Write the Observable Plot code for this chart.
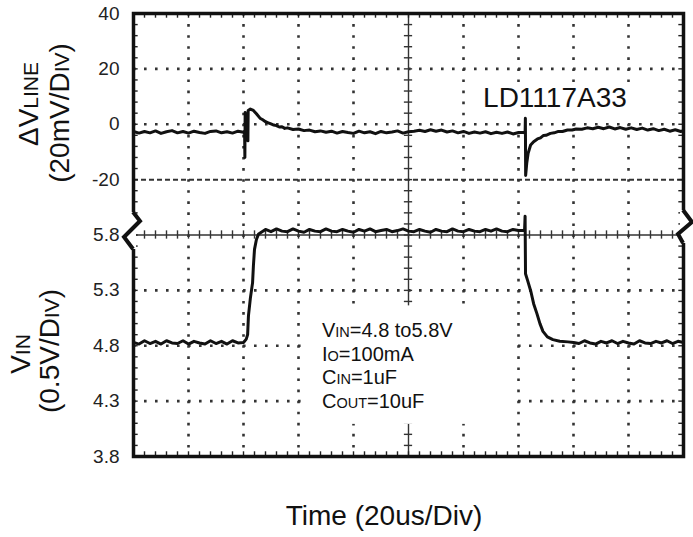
<!DOCTYPE html>
<html><head><meta charset="utf-8">
<script src="https://cdn.jsdelivr.net/npm/d3@7"></script>
<script src="https://cdn.jsdelivr.net/npm/@observablehq/plot@0.6"></script>
<style>
html,body{margin:0;padding:0;background:#fff;}
#chart svg{display:block;}
</style></head>
<body><div id="chart"></div>
<script>
// ---- data (time in µs, 20 µs/div) ----
const lineTime = [0,2,4,6,8,10,12,14,16,18,20,22,24,26,28,30,32,34,36,38,40,40.4,40.5,40.6,40.8,41.5,41.6,41.7,42.5,43.6,44.7,46,47,48,49,50,51,52,53,54,55,56,58,60,62,64,66,68,70,72,74,76,78,80,82,84,86,88,90,92,94,96,98,100,102,104,106,108,110,112,114,116,118,120,122,124,126,128,130,132,134,136,138,140,142,142.4,142.5,142.6,143,143.5,144.4,145.5,146.9,148,149,150,151.6,153,154.5,156,157.8,159.5,161,163,165,167,169,171,173,175,177,179,181,183,185,187,189,191,193,195,197,199,200];
const lineMv = [-2.6,-3.2,-2.6,-3.1,-2.4,-3.3,-2.7,-2.3,-3.1,-2.6,-3.2,-2.5,-3.0,-3.3,-2.6,-2.4,-3.1,-2.7,-3.2,-2.5,-2.9,-2.5,-12.0,4.2,-1.5,-3.0,-6.0,5.0,5.5,5.0,3.8,2.2,1.6,0.9,0.5,0.1,-0.3,-0.5,-1.0,-0.9,-1.5,-1.3,-1.9,-1.7,-2.3,-2.1,-2.7,-2.4,-2.9,-2.5,-3.2,-2.6,-3.0,-3.3,-2.5,-3.1,-2.7,-3.4,-2.6,-3.1,-2.8,-2.4,-3.2,-2.7,-2.5,-2.2,-2.6,-2.0,-2.5,-2.1,-2.8,-2.4,-3.1,-2.6,-3.3,-2.8,-3.2,-2.7,-3.4,-2.9,-3.3,-2.8,-3.5,-3.0,-3.0,-3.2,2.2,-18.5,-14.0,-10.5,-7.5,-6.3,-5.3,-4.9,-4.1,-4.0,-3.3,-3.1,-2.6,-2.6,-2.1,-2.1,-1.7,-1.8,-1.3,-1.6,-1.1,-1.6,-1.0,-1.7,-1.2,-1.8,-1.3,-1.9,-1.4,-2.1,-1.6,-2.3,-1.8,-2.5,-2.0,-2.6,-2.3];
const vinTime = [0,2,4,6,8,10,12,14,16,18,20,22,24,26,28,30,32,34,36,38,40,41,41.5,41.8,42.5,43.3,43.6,44,44.7,45.5,48,50,52,54,56,58,60,62,64,66,68,70,72,74,76,78,80,82,84,86,88,90,92,94,96,98,100,102,104,106,108,110,112,114,116,118,120,122,124,126,128,130,132,134,136,138,140,142.2,142.4,142.55,143.3,144.5,145.5,146.7,147.8,148.9,150.5,152.5,155,158,160,162,164,166,168,170,172,174,176,178,180,182,184,186,188,190,192,194,196,198,200];
const vinVolt = [4.83,4.815,4.845,4.82,4.84,4.815,4.845,4.825,4.82,4.845,4.815,4.84,4.825,4.815,4.845,4.82,4.84,4.815,4.845,4.825,4.83,4.86,4.90,5.07,5.23,5.37,5.52,5.67,5.76,5.81,5.85,5.83,5.855,5.835,5.83,5.855,5.835,5.825,5.85,5.835,5.83,5.855,5.835,5.83,5.85,5.835,5.825,5.85,5.835,5.855,5.83,5.84,5.85,5.83,5.84,5.855,5.835,5.83,5.85,5.835,5.825,5.85,5.835,5.83,5.855,5.835,5.83,5.85,5.835,5.83,5.85,5.835,5.855,5.835,5.83,5.85,5.84,5.84,5.97,5.45,5.39,5.29,5.18,5.09,5.00,4.93,4.88,4.855,4.84,4.835,4.83,4.82,4.845,4.825,4.815,4.84,4.825,4.845,4.82,4.84,4.825,4.815,4.845,4.825,4.82,4.84,4.825,4.845,4.82,4.84,4.83];

// y axis: 8 divisions, labels per division line (bottom to top)
const yTickLabels = ["3.8","4.3","4.8","5.3","5.8","-20","0","20","40"];
const yDivs = [0,1,2,3,4,5,6,7,8];
const yDotted = [1,2,3,6,7];
const yDashed = [5];
const yCenter = [4];
const xDotted = [20,40,60,80,120,140,160,180];
const xCenter = [100];

const deviceLabel = "LD1117A33";
const conditionLines = [
  [["V",0],["IN",1],["=4.8 to5.8V",0]],
  [["I",0],["O",1],["=100mA",0]],
  [["C",0],["IN",1],["=1uF",0]],
  [["C",0],["OUT",1],["=10uF",0]]
];

// ---- helpers ----
const lineDiv = mv => 6 + mv / 20;        // 20 mV/div, 0 mV at division 6
const vinDiv = v => (v - 3.8) / 0.5;       // 0.5 V/div, 3.8 V at division 0
const lineData = lineTime.map((t, i) => ({t, v: lineMv[i]}));
const vinData = vinTime.map((t, i) => ({t, v: vinVolt[i]}));
const xMinor = d3.range(0, 200.01, 4);
const yMinor = d3.range(0, 8.001, 0.2);

const W = 693, H = 537;
const gridColor = "#333";

const chart = Plot.plot({
  width: W, height: H,
  marginLeft: 133, marginRight: 10, marginTop: 13, marginBottom: 81,
  style: {fontFamily: "'Liberation Sans', Arial, sans-serif", background: "#fff", color: "#222", overflow: "visible"},
  x: {domain: [0, 200], axis: null},
  y: {domain: [0, 8], axis: null},
  marks: [
    Plot.ruleY(yDotted, {stroke: gridColor, strokeWidth: 2.6, strokeDasharray: "2.6,8.4"}),
    Plot.ruleX(xDotted, {stroke: gridColor, strokeWidth: 2.6, strokeDasharray: "2.6,8.475"}),
    Plot.ruleY(yDashed, {stroke: "#333", strokeWidth: 2, strokeDasharray: "5,3"}),
    Plot.ruleY(yCenter, {stroke: "#333", strokeWidth: 1.4}),
    Plot.ruleX(xCenter, {stroke: "#333", strokeWidth: 1.4}),
    // crosshair minor ticks
    Plot.ruleX(xMinor, {y1: () => 4 - 0.075, y2: () => 4 + 0.075, stroke: "#333", strokeWidth: 1.4}),
    Plot.ruleY(yMinor, {x1: () => 98.5, x2: () => 101.5, stroke: "#333", strokeWidth: 1.4}),
    // frame minor ticks
    Plot.ruleY(yMinor, {x1: () => 0, x2: () => 1.7, stroke: "#222", strokeWidth: 1.4}),
    Plot.ruleY(yMinor, {x1: () => 198.3, x2: () => 200, stroke: "#222", strokeWidth: 1.4}),
    Plot.ruleX(xMinor, {y1: () => 0, y2: () => 0.085, stroke: "#222", strokeWidth: 1.4}),
    Plot.ruleX(xMinor, {y1: () => 7.915, y2: () => 8, stroke: "#222", strokeWidth: 1.4}),
    // white label boxes
    Plot.rect([0], {x1: () => 121.8, x2: () => 198.2, y1: () => 6.12, y2: () => 6.72, fill: "#fff"}),
    Plot.rect([0], {x1: () => 61.8, x2: () => 138.2, y1: () => 0.58, y2: () => 2.72, fill: "#fff"}),
    // traces
    Plot.line(lineData, {x: "t", y: d => lineDiv(d.v), stroke: "#111", strokeWidth: 3, strokeLinejoin: "round"}),
    Plot.line(vinData, {x: "t", y: d => vinDiv(d.v), stroke: "#111", strokeWidth: 3, strokeLinejoin: "round"}),
    Plot.frame({stroke: "#111", strokeWidth: 3.5}),
    Plot.axisY(yDivs, {anchor: "left", tickSize: 0, tickPadding: 14, fontSize: 19, label: null,
      tickFormat: d => yTickLabels[d], fill: "#222"})
  ]
});

const svg = d3.select(chart);
const xs = chart.scale("x"), ys = chart.scale("y");
const fam = "'Liberation Sans', Arial, sans-serif";

// axis break symbols on the frame at the 5.8 division
function breakMark(x0, y0, pts) {
  svg.append("line").attr("x1", x0).attr("x2", x0)
    .attr("y1", y0 + pts[0][1]).attr("y2", y0 + pts[pts.length - 1][1])
    .attr("stroke", "#fff").attr("stroke-width", 6);
  svg.append("path")
    .attr("d", d3.line()(pts.map(p => [x0 + p[0], y0 + p[1]])))
    .attr("fill", "none").attr("stroke", "#111").attr("stroke-width", 4)
    .attr("stroke-linejoin", "miter");
}
breakMark(xs.apply(0), ys.apply(4), [[0,-22.5],[7,-13.5],[-9,2.5],[0,14.5]]);
breakMark(xs.apply(200), ys.apply(4), [[0,-24.5],[9,-12.5],[-5,-0.5],[0,8.5]]);

// device label
svg.append("text").attr("x", xs.apply(127.3)).attr("y", ys.apply(6.30))
  .attr("text-anchor", "start")
  .attr("font-family", fam).attr("font-size", 28).attr("fill", "#111")
  .text(deviceLabel);

// test conditions
const cx = xs.apply(68.7), cy0 = ys.apply(2.149);
conditionLines.forEach((parts, i) => {
  const t = svg.append("text").attr("x", cx).attr("y", cy0 + i * 23.7)
    .attr("text-anchor", "start")
    .attr("font-family", fam).attr("font-size", 20).attr("fill", "#111");
  parts.forEach(([s, sc]) => t.append("tspan").attr("font-size", sc ? 14.5 : 20).text(s));
});

// axis titles
function vtitle(x, y, parts) {
  const t = svg.append("text").attr("transform", `translate(${x},${y}) rotate(-90)`)
    .attr("text-anchor", "middle").attr("font-family", fam).attr("font-size", 28).attr("fill", "#111");
  parts.forEach(([s, sc]) => t.append("tspan").attr("font-size", sc ? 21 : 28).text(s));
}
vtitle(37.5, 104, [["\u0394V",0],["LINE",1]]);
vtitle(69, 113, [["(20mV/D",0],["IV",1],[")",0]]);
vtitle(30, 354, [["V",0],["IN",1]]);
vtitle(59, 351, [["(0.5V/D",0],["IV",1],[")",0]]);

svg.append("text").attr("x", 384).attr("y", 525).attr("text-anchor", "middle")
  .attr("font-family", fam).attr("font-size", 28).attr("fill", "#111")
  .text("Time (20us/Div)");

document.getElementById("chart").appendChild(chart);
</script>
</body></html>
